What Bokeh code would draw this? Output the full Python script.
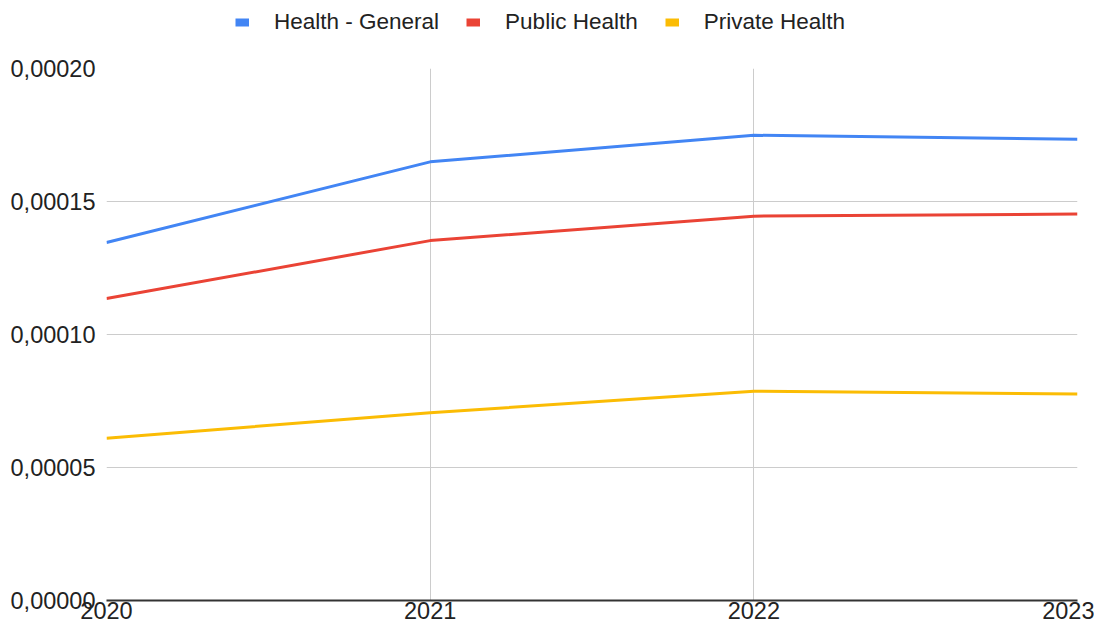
from bokeh.plotting import figure
from bokeh.layouts import column
from bokeh.models import Range1d, FixedTicker, CustomJSTickFormatter, Legend, LegendItem
from bokeh.embed import file_html
from bokeh.resources import INLINE

years = [2020, 2021, 2022, 2023]
health_general = [0.0001346, 0.0001649, 0.0001749, 0.0001734]
public_health = [0.0001135, 0.0001353, 0.0001445, 0.0001453]
private_health = [0.0000610, 0.0000706, 0.0000787, 0.0000776]
series_names = ["Health - General", "Public Health", "Private Health"]
colors = ["#4285F4", "#EA4335", "#FBBC04"]
y_ticks = [0.0, 0.00005, 0.0001, 0.00015, 0.0002]

FONT = "Liberation Sans"
W = 1094
LH = 50

# ---- legend strip ----
lf = figure(width=W, height=LH, output_backend="svg", toolbar_location=None,
            x_range=Range1d(0, 1), y_range=Range1d(0, 1),
            min_border=0)
lf.outline_line_color = None
lf.axis.visible = False
lf.grid.visible = False
lf.background_fill_color = "white"
lf.border_fill_color = "white"
swatches = []
for c in colors:
    s = lf.line(x=[5, 6], y=[5, 6], line_color=c, line_width=8)
    swatches.append(s)
legend = Legend(items=[LegendItem(label=n, renderers=[s]) for n, s in zip(series_names, swatches)],
                orientation="horizontal", location=(129, 15),
                label_text_font=FONT, label_text_font_size="22.5px", label_text_color="#222222",
                glyph_width=14, glyph_height=10, spacing=27, label_standoff=25,
                border_line_color=None, background_fill_alpha=0, margin=0, padding=0)
lf.add_layout(legend, "center")

# ---- main chart ----
p = figure(width=W, height=627 - LH, output_backend="svg", toolbar_location=None,
           x_range=Range1d(2020, 2023), y_range=Range1d(0, 0.0002),
           min_border_left=106, min_border_right=17, min_border_top=68 - LH, min_border_bottom=27)
p.background_fill_color = "white"
p.border_fill_color = "white"
p.outline_line_color = None

for vals, c in zip([health_general, public_health, private_health], colors):
    p.line(years, vals, line_color=c, line_width=3)

p.xaxis.ticker = FixedTicker(ticks=years)
p.yaxis.ticker = FixedTicker(ticks=y_ticks)
p.yaxis.formatter = CustomJSTickFormatter(code="return tick.toFixed(5).replace('.', ',');")
p.xaxis.formatter = CustomJSTickFormatter(code="return tick.toFixed(0);")

for ax in [p.xaxis[0], p.yaxis[0]]:
    ax.major_tick_line_color = None
    ax.minor_tick_line_color = None
    ax.major_tick_out = 0
    ax.major_tick_in = 0
    ax.major_label_text_font = FONT
    ax.major_label_text_font_size = "23.5px"
    ax.major_label_text_color = "#222222"
p.yaxis.axis_line_color = None
p.yaxis.major_label_standoff = 11
p.xaxis.axis_line_color = "#333333"
p.xaxis.axis_line_width = 2
p.xaxis.major_label_standoff = 1

p.xgrid.grid_line_color = "#cccccc"
p.ygrid.grid_line_color = "#cccccc"
p.xgrid.grid_line_width = 1
p.ygrid.grid_line_width = 1

layout = column(lf, p, spacing=0)
open("out.html", "w").write(file_html(layout, INLINE))
